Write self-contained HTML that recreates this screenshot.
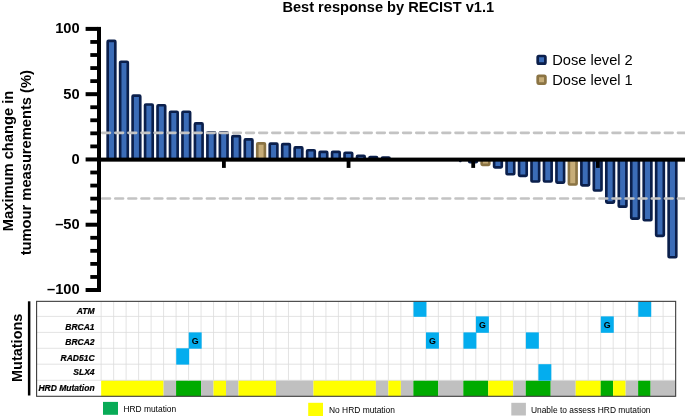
<!DOCTYPE html>
<html><head><meta charset="utf-8"><title>Best response by RECIST v1.1</title>
<style>
html,body{margin:0;padding:0;background:#fff;}
body{width:685px;height:417px;overflow:hidden;}
svg{display:block;will-change:transform;}
text{font-family:"Liberation Sans",sans-serif;fill:#000;}
.b14{font-size:14.7px;font-weight:bold;}
.yt{font-size:14.7px;font-weight:bold;}
.t{font-size:14.6px;font-weight:bold;}
.lg{font-size:14.65px;}
.bi{font-size:8.5px;font-weight:bold;font-style:italic;stroke:#000;stroke-width:0.22px;}
.g{font-size:8.9px;font-weight:bold;}
.sm{font-size:8.42px;}
.mut{font-size:15.2px;font-weight:bold;}
</style></head><body>
<svg width="685" height="417" viewBox="0 0 685 417">
<rect width="685" height="417" fill="#fff"/>
<text x="388.3" y="12.4" text-anchor="middle" class="t">Best response by RECIST v1.1</text>
<g>
<rect x="107.67" y="40.83" width="7.65" height="118.67" rx="0.8" fill="#3b6cb7" stroke="#0b1f4b" stroke-width="2.65"/>
<rect x="120.14" y="61.73" width="7.65" height="97.78" rx="0.8" fill="#3b6cb7" stroke="#0b1f4b" stroke-width="2.65"/>
<rect x="132.60" y="95.62" width="7.65" height="63.88" rx="0.8" fill="#3b6cb7" stroke="#0b1f4b" stroke-width="2.65"/>
<rect x="145.07" y="104.53" width="7.65" height="54.97" rx="0.8" fill="#3b6cb7" stroke="#0b1f4b" stroke-width="2.65"/>
<rect x="157.54" y="105.23" width="7.65" height="54.27" rx="0.8" fill="#3b6cb7" stroke="#0b1f4b" stroke-width="2.65"/>
<rect x="170.00" y="111.73" width="7.65" height="47.77" rx="0.8" fill="#3b6cb7" stroke="#0b1f4b" stroke-width="2.65"/>
<rect x="182.47" y="111.73" width="7.65" height="47.77" rx="0.8" fill="#3b6cb7" stroke="#0b1f4b" stroke-width="2.65"/>
<rect x="194.93" y="123.33" width="7.65" height="36.17" rx="0.8" fill="#3b6cb7" stroke="#0b1f4b" stroke-width="2.65"/>
<rect x="207.40" y="132.22" width="7.65" height="27.28" rx="0.8" fill="#3b6cb7" stroke="#0b1f4b" stroke-width="2.65"/>
<rect x="219.87" y="132.22" width="7.65" height="27.28" rx="0.8" fill="#3b6cb7" stroke="#0b1f4b" stroke-width="2.65"/>
<rect x="232.33" y="136.17" width="7.65" height="23.33" rx="0.8" fill="#3b6cb7" stroke="#0b1f4b" stroke-width="2.65"/>
<rect x="244.80" y="139.42" width="7.65" height="20.08" rx="0.8" fill="#3b6cb7" stroke="#0b1f4b" stroke-width="2.65"/>
<rect x="257.26" y="143.32" width="7.65" height="16.18" rx="0.8" fill="#c7ad78" stroke="#8b7444" stroke-width="2.65"/>
<rect x="269.73" y="143.67" width="7.65" height="15.83" rx="0.8" fill="#3b6cb7" stroke="#0b1f4b" stroke-width="2.65"/>
<rect x="282.19" y="144.17" width="7.65" height="15.33" rx="0.8" fill="#3b6cb7" stroke="#0b1f4b" stroke-width="2.65"/>
<rect x="294.66" y="147.42" width="7.65" height="12.08" rx="0.8" fill="#3b6cb7" stroke="#0b1f4b" stroke-width="2.65"/>
<rect x="307.13" y="150.22" width="7.65" height="9.28" rx="0.8" fill="#3b6cb7" stroke="#0b1f4b" stroke-width="2.65"/>
<rect x="319.59" y="151.92" width="7.65" height="7.58" rx="0.8" fill="#3b6cb7" stroke="#0b1f4b" stroke-width="2.65"/>
<rect x="332.06" y="151.92" width="7.65" height="7.58" rx="0.8" fill="#3b6cb7" stroke="#0b1f4b" stroke-width="2.65"/>
<rect x="344.53" y="152.72" width="7.65" height="6.78" rx="0.8" fill="#3b6cb7" stroke="#0b1f4b" stroke-width="2.65"/>
<rect x="356.99" y="155.72" width="7.65" height="3.78" rx="0.8" fill="#3b6cb7" stroke="#0b1f4b" stroke-width="2.65"/>
<rect x="369.46" y="157.02" width="7.65" height="2.48" rx="0.8" fill="#3b6cb7" stroke="#0b1f4b" stroke-width="2.65"/>
<rect x="381.92" y="157.62" width="7.65" height="1.88" rx="0.8" fill="#3b6cb7" stroke="#0b1f4b" stroke-width="2.65"/>
<rect x="469.19" y="159.50" width="7.65" height="2.78" rx="0.8" fill="#3b6cb7" stroke="#0b1f4b" stroke-width="2.65"/>
<rect x="481.65" y="159.50" width="7.65" height="5.38" rx="0.8" fill="#c7ad78" stroke="#8b7444" stroke-width="2.65"/>
<rect x="494.12" y="159.50" width="7.65" height="7.88" rx="0.8" fill="#3b6cb7" stroke="#0b1f4b" stroke-width="2.65"/>
<rect x="506.58" y="159.50" width="7.65" height="14.78" rx="0.8" fill="#3b6cb7" stroke="#0b1f4b" stroke-width="2.65"/>
<rect x="519.05" y="159.50" width="7.65" height="16.38" rx="0.8" fill="#3b6cb7" stroke="#0b1f4b" stroke-width="2.65"/>
<rect x="531.51" y="159.50" width="7.65" height="21.98" rx="0.8" fill="#3b6cb7" stroke="#0b1f4b" stroke-width="2.65"/>
<rect x="543.98" y="159.50" width="7.65" height="21.98" rx="0.8" fill="#3b6cb7" stroke="#0b1f4b" stroke-width="2.65"/>
<rect x="556.45" y="159.50" width="7.65" height="23.08" rx="0.8" fill="#3b6cb7" stroke="#0b1f4b" stroke-width="2.65"/>
<rect x="568.91" y="159.50" width="7.65" height="24.98" rx="0.8" fill="#c7ad78" stroke="#8b7444" stroke-width="2.65"/>
<rect x="581.38" y="159.50" width="7.65" height="25.88" rx="0.8" fill="#3b6cb7" stroke="#0b1f4b" stroke-width="2.65"/>
<rect x="593.84" y="159.50" width="7.65" height="30.98" rx="0.8" fill="#3b6cb7" stroke="#0b1f4b" stroke-width="2.65"/>
<rect x="606.31" y="159.50" width="7.65" height="43.08" rx="0.8" fill="#3b6cb7" stroke="#0b1f4b" stroke-width="2.65"/>
<rect x="618.78" y="159.50" width="7.65" height="47.18" rx="0.8" fill="#3b6cb7" stroke="#0b1f4b" stroke-width="2.65"/>
<rect x="631.24" y="159.50" width="7.65" height="59.08" rx="0.8" fill="#3b6cb7" stroke="#0b1f4b" stroke-width="2.65"/>
<rect x="643.71" y="159.50" width="7.65" height="60.78" rx="0.8" fill="#3b6cb7" stroke="#0b1f4b" stroke-width="2.65"/>
<rect x="656.17" y="159.50" width="7.65" height="76.38" rx="0.8" fill="#3b6cb7" stroke="#0b1f4b" stroke-width="2.65"/>
<rect x="668.64" y="159.50" width="7.65" height="97.78" rx="0.8" fill="#3b6cb7" stroke="#0b1f4b" stroke-width="2.65"/>
<rect x="459.0" y="159" width="2.6" height="3.3" rx="1" fill="#1a3268"/>
</g>
<g>
<line x1="102.2" y1="132.85" x2="690" y2="132.85" stroke="#c3c3c3" stroke-width="2.6" stroke-linecap="round" stroke-dasharray="7.8 5.285"/>
<line x1="102.2" y1="198.45" x2="690" y2="198.45" stroke="#c3c3c3" stroke-width="2.6" stroke-linecap="round" stroke-dasharray="7.8 5.285"/>
</g>
<g>
<rect x="97" y="26.9" width="4" height="265.1" fill="#000"/>
<rect x="85.6" y="26.90" width="12" height="4" fill="#000"/>
<rect x="90.3" y="40.05" width="7" height="3.8" fill="#000"/>
<rect x="90.3" y="53.11" width="7" height="3.8" fill="#000"/>
<rect x="90.3" y="66.16" width="7" height="3.8" fill="#000"/>
<rect x="90.3" y="79.22" width="7" height="3.8" fill="#000"/>
<rect x="85.6" y="92.18" width="12" height="4" fill="#000"/>
<rect x="90.3" y="105.33" width="7" height="3.8" fill="#000"/>
<rect x="90.3" y="118.38" width="7" height="3.8" fill="#000"/>
<rect x="90.3" y="131.44" width="7" height="3.8" fill="#000"/>
<rect x="90.3" y="144.50" width="7" height="3.8" fill="#000"/>
<rect x="85.6" y="157.45" width="12" height="4" fill="#000"/>
<rect x="90.3" y="170.60" width="7" height="3.8" fill="#000"/>
<rect x="90.3" y="183.66" width="7" height="3.8" fill="#000"/>
<rect x="90.3" y="196.72" width="7" height="3.8" fill="#000"/>
<rect x="90.3" y="209.77" width="7" height="3.8" fill="#000"/>
<rect x="85.6" y="222.72" width="12" height="4" fill="#000"/>
<rect x="90.3" y="235.88" width="7" height="3.8" fill="#000"/>
<rect x="90.3" y="248.94" width="7" height="3.8" fill="#000"/>
<rect x="90.3" y="261.99" width="7" height="3.8" fill="#000"/>
<rect x="90.3" y="275.05" width="7" height="3.8" fill="#000"/>
<rect x="85.6" y="288.00" width="12" height="4" fill="#000"/>
<rect x="97" y="157.6" width="588" height="4.05" fill="#000"/>
<rect x="221.99" y="160" width="3.8" height="7.9" fill="#000"/>
<rect x="346.65" y="160" width="3.8" height="7.9" fill="#000"/>
<rect x="471.31" y="160" width="3.8" height="7.9" fill="#000"/>
<rect x="595.97" y="160" width="3.8" height="7.9" fill="#000"/>
</g>
<text x="79.7" y="33.30" text-anchor="end" class="b14">100</text>
<text x="79.7" y="98.58" text-anchor="end" class="b14">50</text>
<text x="79.7" y="163.85" text-anchor="end" class="b14">0</text>
<text x="79.7" y="229.12" text-anchor="end" class="b14">–50</text>
<text x="79.7" y="294.40" text-anchor="end" class="b14">–100</text>
<text transform="translate(13.2,161) rotate(-90)" text-anchor="middle" class="yt">Maximum change in</text>
<text transform="translate(30.5,162.7) rotate(-90)" text-anchor="middle" class="yt">tumour measurements (%)</text>
<rect x="537.7" y="56.0" width="7.7" height="7.7" rx="1.2" fill="#3b6cb7" stroke="#0b1f4b" stroke-width="2.7"/>
<text x="552.2" y="65.0" class="lg">Dose level 2</text>
<rect x="537.7" y="75.85" width="7.7" height="7.7" rx="1.2" fill="#c7ad78" stroke="#8b7444" stroke-width="2.7"/>
<text x="552.2" y="84.9" class="lg">Dose level 1</text>
<rect x="27.9" y="301.3" width="2.5" height="94.2" fill="#000"/>
<text transform="translate(21.7,347.8) rotate(-90) scale(0.952,1)" text-anchor="middle" class="mut">Mutations</text>
<rect x="101.15" y="380.30" width="62.44" height="16.00" fill="#ffff00"/>
<rect x="163.59" y="380.30" width="12.49" height="16.00" fill="#c0c0c0"/>
<rect x="176.08" y="380.30" width="24.98" height="16.00" fill="#00ab00"/>
<rect x="201.05" y="380.30" width="12.49" height="16.00" fill="#c0c0c0"/>
<rect x="213.54" y="380.30" width="12.49" height="16.00" fill="#ffff00"/>
<rect x="226.03" y="380.30" width="12.49" height="16.00" fill="#c0c0c0"/>
<rect x="238.52" y="380.30" width="37.46" height="16.00" fill="#ffff00"/>
<rect x="275.98" y="380.30" width="37.46" height="16.00" fill="#c0c0c0"/>
<rect x="313.45" y="380.30" width="62.44" height="16.00" fill="#ffff00"/>
<rect x="375.89" y="380.30" width="12.49" height="16.00" fill="#c0c0c0"/>
<rect x="388.37" y="380.30" width="12.49" height="16.00" fill="#ffff00"/>
<rect x="400.86" y="380.30" width="12.49" height="16.00" fill="#c0c0c0"/>
<rect x="413.35" y="380.30" width="24.98" height="16.00" fill="#00ab00"/>
<rect x="438.33" y="380.30" width="24.98" height="16.00" fill="#c0c0c0"/>
<rect x="463.30" y="380.30" width="24.98" height="16.00" fill="#00ab00"/>
<rect x="488.28" y="380.30" width="24.98" height="16.00" fill="#ffff00"/>
<rect x="513.25" y="380.30" width="12.49" height="16.00" fill="#c0c0c0"/>
<rect x="525.74" y="380.30" width="24.98" height="16.00" fill="#00ab00"/>
<rect x="550.72" y="380.30" width="24.98" height="16.00" fill="#c0c0c0"/>
<rect x="575.69" y="380.30" width="24.98" height="16.00" fill="#ffff00"/>
<rect x="600.67" y="380.30" width="12.49" height="16.00" fill="#00ab00"/>
<rect x="613.16" y="380.30" width="12.49" height="16.00" fill="#ffff00"/>
<rect x="625.65" y="380.30" width="12.49" height="16.00" fill="#c0c0c0"/>
<rect x="638.13" y="380.30" width="12.49" height="16.00" fill="#00ab00"/>
<rect x="650.62" y="380.30" width="24.98" height="16.00" fill="#c0c0c0"/>
<line x1="36.5" y1="316.40" x2="675.60" y2="316.40" stroke="#dcdcdc" stroke-width="0.8"/>
<line x1="36.5" y1="332.40" x2="675.60" y2="332.40" stroke="#dcdcdc" stroke-width="0.8"/>
<line x1="36.5" y1="348.30" x2="675.60" y2="348.30" stroke="#dcdcdc" stroke-width="0.8"/>
<line x1="36.5" y1="364.20" x2="675.60" y2="364.20" stroke="#dcdcdc" stroke-width="0.8"/>
<line x1="36.5" y1="380.30" x2="675.60" y2="380.30" stroke="#dcdcdc" stroke-width="0.8"/>
<line x1="101.15" y1="301.35" x2="101.15" y2="380.30" stroke="#dcdcdc" stroke-width="0.8"/>
<line x1="113.64" y1="301.35" x2="113.64" y2="380.30" stroke="#dcdcdc" stroke-width="0.8"/>
<line x1="126.13" y1="301.35" x2="126.13" y2="380.30" stroke="#dcdcdc" stroke-width="0.8"/>
<line x1="138.61" y1="301.35" x2="138.61" y2="380.30" stroke="#dcdcdc" stroke-width="0.8"/>
<line x1="151.10" y1="301.35" x2="151.10" y2="380.30" stroke="#dcdcdc" stroke-width="0.8"/>
<line x1="163.59" y1="301.35" x2="163.59" y2="380.30" stroke="#dcdcdc" stroke-width="0.8"/>
<line x1="176.08" y1="301.35" x2="176.08" y2="380.30" stroke="#dcdcdc" stroke-width="0.8"/>
<line x1="188.57" y1="301.35" x2="188.57" y2="380.30" stroke="#dcdcdc" stroke-width="0.8"/>
<line x1="201.05" y1="301.35" x2="201.05" y2="380.30" stroke="#dcdcdc" stroke-width="0.8"/>
<line x1="213.54" y1="301.35" x2="213.54" y2="380.30" stroke="#dcdcdc" stroke-width="0.8"/>
<line x1="226.03" y1="301.35" x2="226.03" y2="380.30" stroke="#dcdcdc" stroke-width="0.8"/>
<line x1="238.52" y1="301.35" x2="238.52" y2="380.30" stroke="#dcdcdc" stroke-width="0.8"/>
<line x1="251.01" y1="301.35" x2="251.01" y2="380.30" stroke="#dcdcdc" stroke-width="0.8"/>
<line x1="263.49" y1="301.35" x2="263.49" y2="380.30" stroke="#dcdcdc" stroke-width="0.8"/>
<line x1="275.98" y1="301.35" x2="275.98" y2="380.30" stroke="#dcdcdc" stroke-width="0.8"/>
<line x1="288.47" y1="301.35" x2="288.47" y2="380.30" stroke="#dcdcdc" stroke-width="0.8"/>
<line x1="300.96" y1="301.35" x2="300.96" y2="380.30" stroke="#dcdcdc" stroke-width="0.8"/>
<line x1="313.45" y1="301.35" x2="313.45" y2="380.30" stroke="#dcdcdc" stroke-width="0.8"/>
<line x1="325.93" y1="301.35" x2="325.93" y2="380.30" stroke="#dcdcdc" stroke-width="0.8"/>
<line x1="338.42" y1="301.35" x2="338.42" y2="380.30" stroke="#dcdcdc" stroke-width="0.8"/>
<line x1="350.91" y1="301.35" x2="350.91" y2="380.30" stroke="#dcdcdc" stroke-width="0.8"/>
<line x1="363.40" y1="301.35" x2="363.40" y2="380.30" stroke="#dcdcdc" stroke-width="0.8"/>
<line x1="375.89" y1="301.35" x2="375.89" y2="380.30" stroke="#dcdcdc" stroke-width="0.8"/>
<line x1="388.37" y1="301.35" x2="388.37" y2="380.30" stroke="#dcdcdc" stroke-width="0.8"/>
<line x1="400.86" y1="301.35" x2="400.86" y2="380.30" stroke="#dcdcdc" stroke-width="0.8"/>
<line x1="413.35" y1="301.35" x2="413.35" y2="380.30" stroke="#dcdcdc" stroke-width="0.8"/>
<line x1="425.84" y1="301.35" x2="425.84" y2="380.30" stroke="#dcdcdc" stroke-width="0.8"/>
<line x1="438.33" y1="301.35" x2="438.33" y2="380.30" stroke="#dcdcdc" stroke-width="0.8"/>
<line x1="450.81" y1="301.35" x2="450.81" y2="380.30" stroke="#dcdcdc" stroke-width="0.8"/>
<line x1="463.30" y1="301.35" x2="463.30" y2="380.30" stroke="#dcdcdc" stroke-width="0.8"/>
<line x1="475.79" y1="301.35" x2="475.79" y2="380.30" stroke="#dcdcdc" stroke-width="0.8"/>
<line x1="488.28" y1="301.35" x2="488.28" y2="380.30" stroke="#dcdcdc" stroke-width="0.8"/>
<line x1="500.77" y1="301.35" x2="500.77" y2="380.30" stroke="#dcdcdc" stroke-width="0.8"/>
<line x1="513.25" y1="301.35" x2="513.25" y2="380.30" stroke="#dcdcdc" stroke-width="0.8"/>
<line x1="525.74" y1="301.35" x2="525.74" y2="380.30" stroke="#dcdcdc" stroke-width="0.8"/>
<line x1="538.23" y1="301.35" x2="538.23" y2="380.30" stroke="#dcdcdc" stroke-width="0.8"/>
<line x1="550.72" y1="301.35" x2="550.72" y2="380.30" stroke="#dcdcdc" stroke-width="0.8"/>
<line x1="563.21" y1="301.35" x2="563.21" y2="380.30" stroke="#dcdcdc" stroke-width="0.8"/>
<line x1="575.69" y1="301.35" x2="575.69" y2="380.30" stroke="#dcdcdc" stroke-width="0.8"/>
<line x1="588.18" y1="301.35" x2="588.18" y2="380.30" stroke="#dcdcdc" stroke-width="0.8"/>
<line x1="600.67" y1="301.35" x2="600.67" y2="380.30" stroke="#dcdcdc" stroke-width="0.8"/>
<line x1="613.16" y1="301.35" x2="613.16" y2="380.30" stroke="#dcdcdc" stroke-width="0.8"/>
<line x1="625.65" y1="301.35" x2="625.65" y2="380.30" stroke="#dcdcdc" stroke-width="0.8"/>
<line x1="638.13" y1="301.35" x2="638.13" y2="380.30" stroke="#dcdcdc" stroke-width="0.8"/>
<line x1="650.62" y1="301.35" x2="650.62" y2="380.30" stroke="#dcdcdc" stroke-width="0.8"/>
<line x1="663.11" y1="301.35" x2="663.11" y2="380.30" stroke="#dcdcdc" stroke-width="0.8"/>
<rect x="413.50" y="301.35" width="12.94" height="15.45" fill="#04adee"/>
<rect x="638.28" y="301.35" width="12.94" height="15.45" fill="#04adee"/>
<rect x="475.94" y="316.40" width="12.94" height="16.40" fill="#04adee"/>
<text x="482.33" y="328.00" text-anchor="middle" class="g">G</text>
<rect x="600.82" y="316.40" width="12.94" height="16.40" fill="#04adee"/>
<text x="607.21" y="328.00" text-anchor="middle" class="g">G</text>
<rect x="188.72" y="332.40" width="12.94" height="16.30" fill="#04adee"/>
<text x="195.11" y="343.95" text-anchor="middle" class="g">G</text>
<rect x="425.99" y="332.40" width="12.94" height="16.30" fill="#04adee"/>
<text x="432.38" y="343.95" text-anchor="middle" class="g">G</text>
<rect x="463.45" y="332.40" width="12.94" height="16.30" fill="#04adee"/>
<rect x="525.89" y="332.40" width="12.94" height="16.30" fill="#04adee"/>
<rect x="176.23" y="348.30" width="12.94" height="16.30" fill="#04adee"/>
<rect x="538.38" y="364.20" width="12.94" height="16.50" fill="#04adee"/>
<rect x="36.6" y="301.35" width="639.06" height="94.95" fill="none" stroke="#3c3c3c" stroke-width="1.1"/>
<text x="94.6" y="313.80" text-anchor="end" class="bi">ATM</text>
<text x="94.6" y="329.65" text-anchor="end" class="bi">BRCA1</text>
<text x="94.6" y="345.00" text-anchor="end" class="bi">BRCA2</text>
<text x="94.6" y="360.60" text-anchor="end" class="bi">RAD51C</text>
<text x="94.6" y="375.25" text-anchor="end" class="bi">SLX4</text>
<text x="94.6" y="390.65" text-anchor="end" class="bi">HRD Mutation</text>
<rect x="103" y="401.9" width="15" height="12.9" fill="#08ab57"/>
<text x="123.4" y="411.6" class="sm">HRD mutation</text>
<rect x="308.2" y="402.8" width="14.8" height="13.2" fill="#ffff00"/>
<text x="329" y="412.5" class="sm">No HRD mutation</text>
<rect x="511.3" y="402.8" width="14.6" height="12.7" fill="#c0c0c0"/>
<text x="530.95" y="412.5" class="sm">Unable to assess HRD mutation</text>
</svg>
</body></html>
